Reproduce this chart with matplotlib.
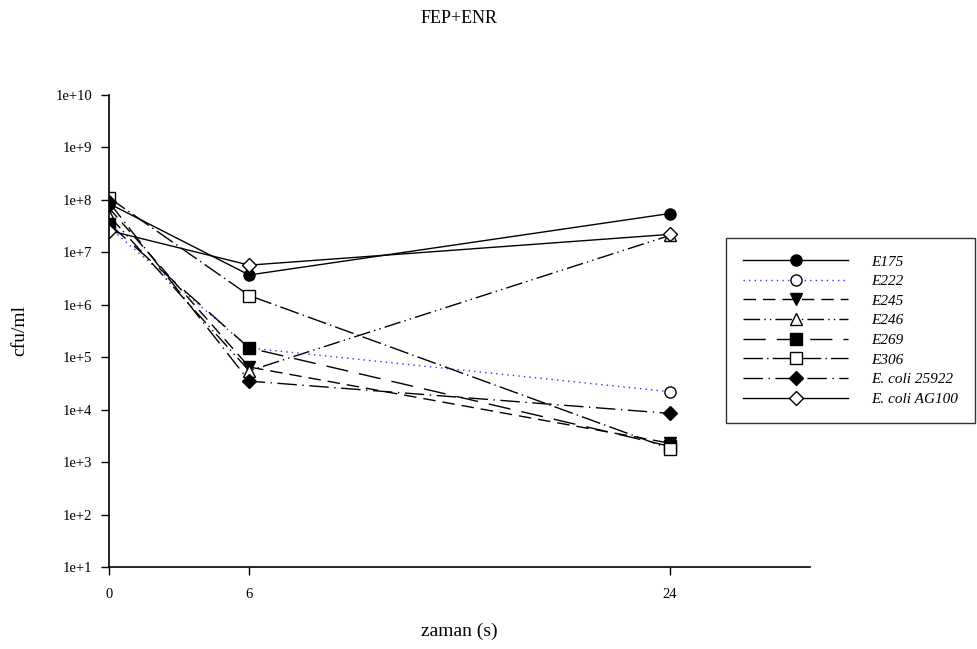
import numpy as np
import matplotlib.pyplot as plt

plt.rcParams['font.family'] = ['Liberation Serif', 'DejaVu Serif']

# sampling times (hours)
zaman = [0, 6, 24]

# cfu/ml counts per strain
e175 = [8.5e7, 3.7e6, 5.5e7]
e222 = [3.0e7, 1.5e5, 2.2e4]
e245 = [7.0e7, 6.5e4, 2.3e3]
e246 = [5.0e7, 5.5e4, 2.1e7]
e269 = [3.5e7, 1.5e5, 2.0e3]
e306 = [1.1e8, 1.5e6, 1.8e3]
ecoli_25922 = [9.0e7, 3.5e4, 8.5e3]
ecoli_ag100 = [2.6e7, 5.7e6, 2.2e7]

names = ['E175', 'E222', 'E245', 'E246', 'E269', 'E306',
         'E. coli 25922', 'E. coli AG100']
series = [e175, e222, e245, e246, e269, e306, ecoli_25922, ecoli_ag100]

styles = [
    dict(color='black', ls='-', marker='o', mfc='black'),
    dict(color='#3030ff', ls=(0, (1, 3)), marker='o', mfc='white'),
    dict(color='black', ls=(0, (9, 5)), marker='v', mfc='black'),
    dict(color='black', ls=(0, (12, 3, 1, 3, 1, 3)), marker='^', mfc='white'),
    dict(color='black', ls=(0, (16, 8)), marker='s', mfc='black'),
    dict(color='black', ls=(0, (14, 3, 1, 3)), marker='s', mfc='white'),
    dict(color='black', ls=(0, (14, 4, 1, 4)), marker='D', mfc='black'),
    dict(color='black', ls='-', marker='D', mfc='white'),
]

fig = plt.figure(figsize=(9.78, 6.49), dpi=100)
ax = fig.add_axes([109 / 978, 1 - 567 / 649, (810 - 109) / 978, (567 - 95) / 649])

for nm, vals, st in zip(names, series, styles):
    ms = 7 if st['marker'] == 'D' else 8
    ax.plot(zaman, vals, lw=1, ls=st['ls'], color=st['color'],
            marker=st['marker'], mfc=st['mfc'], mec='black', mew=1,
            markersize=ms, label=nm)

ax.set_yscale('log')
ax.set_ylim(1e1, 1e10)
ax.set_xlim(0, 30)
ax.set_xticks([0, 6, 24])
ax.set_yticks([10.0 ** k for k in range(1, 11)])
ax.set_yticklabels(['1e+%d' % k for k in range(1, 11)])
ax.minorticks_off()
ax.spines['top'].set_visible(False)
ax.spines['right'].set_visible(False)
for s in ('left', 'bottom'):
    ax.spines[s].set_linewidth(1.2)
ax.tick_params(direction='out', length=6, width=1, labelsize=10.5)
ax.tick_params(axis='y', pad=6)
ax.tick_params(axis='x', pad=9)

ax.set_xlabel('zaman (s)', fontsize=14, labelpad=16)
ax.set_ylabel('cfu/ml', fontsize=14, labelpad=20)
ax.set_title('FEP+ENR', fontsize=13, pad=52)

leg = fig.legend(loc='upper left', bbox_to_anchor=(726 / 978, 1 - 238 / 649),
                 numpoints=1, fontsize=11, handlelength=6.9, handletextpad=1.5,
                 labelspacing=0.39, borderpad=1.1, borderaxespad=0,
                 fancybox=False, frameon=True, edgecolor='black')
leg.get_frame().set_linewidth(1)
for t in leg.get_texts():
    t.set_style('italic')

fig.savefig('out.png', dpi=100)
